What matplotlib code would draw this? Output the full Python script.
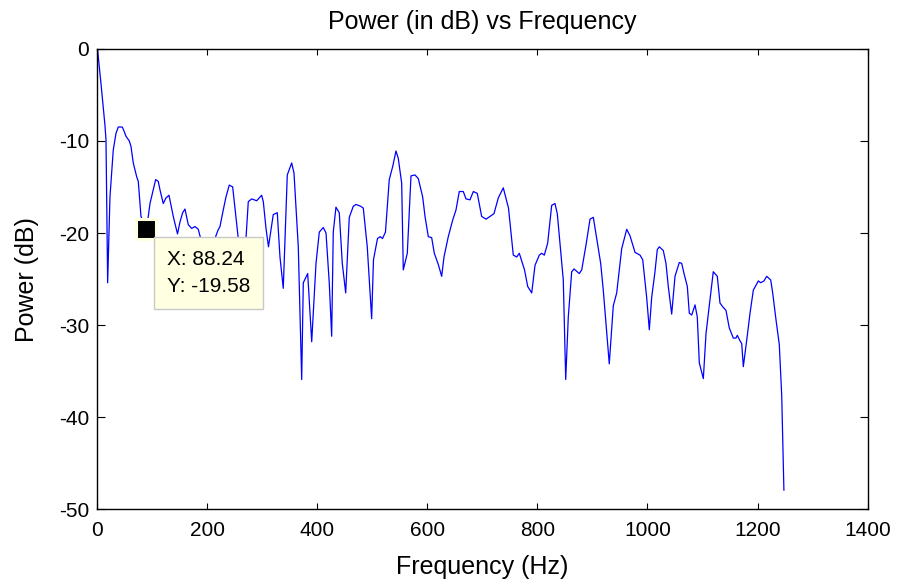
import matplotlib
matplotlib.use('Agg')
import matplotlib.pyplot as plt

# Power spectrum (Hz, dB)
freq_hz = [0, 6.4, 13.6, 15.5, 18.5, 22.7, 28.7, 33.6, 37.8, 45.1,
           48.7, 51.8, 57.8, 60.9, 65.1, 71.3, 74.2, 79.1, 88.24, 92.4,
           95.5, 101.5, 105.8, 110.5, 113.6, 119.6, 124.5, 130.0, 133.1, 137.8,
           145.5, 150.0, 154.9, 159.1, 165.1, 171.3, 177.3, 183.3, 187.6, 200.9,
           213.6, 219.1, 222.7, 228.7, 233.6, 239.6, 245.8, 256.0, 262.7, 270.0,
           274.2, 280.4, 289.5, 298.5, 301.5, 306.4, 310.9, 319.6, 326.9, 331.8,
           337.8, 345.1, 353.1, 357.3, 365.1, 371.3, 374.2, 382.2, 389.5, 397.3,
           403.3, 410.5, 415.5, 421.5, 425.8, 428.7, 433.6, 439.6, 445.1, 451.3,
           457.8, 465.1, 470.0, 478.5, 483.3, 490.5, 498.5, 501.8, 509.1, 514.2,
           518.2, 523.6, 530.5, 536.7, 542.7, 546.9, 553.1, 556.0, 563.3, 570.0,
           577.3, 583.3, 591.3, 595.5, 601.5, 607.6, 612.4, 619.6, 625.8, 630.0,
           637.8, 645.8, 651.8, 657.8, 665.1, 670.0, 677.3, 683.3, 690.5, 698.5,
           706.4, 713.6, 720.9, 728.7, 737.8, 747.3, 756.0, 762.2, 766.9, 776.4,
           782.2, 789.5, 795.5, 803.3, 807.6, 812.4, 818.5, 825.8, 831.8, 836.0,
           846.9, 851.3, 856.0, 862.2, 866.4, 876.0, 880.4, 888.2, 895.5, 901.5,
           907.6, 914.9, 919.6, 930.5, 937.8, 944.0, 953.1, 962.2, 968.2, 977.3,
           986.4, 991.3, 995.5, 998.5, 1003.3, 1007.6, 1013.6, 1017.8, 1021.5, 1028.7,
           1033.6, 1037.8, 1044.0, 1050.0, 1057.8, 1062.2, 1066.4, 1072.4, 1076.0, 1080.4,
           1086.4, 1090.5, 1094.2, 1101.5, 1106.4, 1113.6, 1119.6, 1126.9, 1131.8, 1136.7,
           1142.7, 1148.7, 1156.0, 1160.9, 1163.3, 1168.2, 1171.3, 1174.2, 1181.5, 1186.4,
           1192.4, 1201.5, 1205.8, 1211.8, 1216.7, 1224.0, 1227.6, 1233.6, 1239.6, 1244.0,
           1248.0]

power_db = [0, -3.8, -8.3, -9.9, -25.4, -16.1, -11.0, -9.2, -8.5, -8.5,
            -9.0, -9.5, -10.0, -10.6, -12.4, -13.9, -14.4, -18.2, -19.58, -18.2,
            -16.8, -15.3, -14.2, -14.4, -15.3, -16.8, -16.2, -15.9, -16.8, -18.2,
            -20.1, -18.8, -17.8, -17.4, -19.1, -19.5, -19.3, -19.6, -20.6, -22.4,
            -20.6, -19.7, -19.3, -17.5, -16.1, -14.8, -15.0, -20.6, -23.5, -20.6,
            -16.6, -16.3, -16.5, -15.9, -16.6, -19.5, -21.5, -18.0, -17.8, -22.6,
            -26.0, -13.7, -12.4, -13.5, -21.5, -35.9, -25.4, -24.4, -31.8, -23.3,
            -19.9, -19.4, -20.0, -25.5, -31.2, -19.9, -17.2, -17.8, -23.3, -26.5,
            -18.3, -17.1, -16.9, -17.1, -17.3, -21.5, -29.3, -22.9, -20.6, -20.4,
            -20.6, -19.9, -14.2, -12.8, -11.1, -11.9, -14.6, -24.0, -22.2, -13.8,
            -13.7, -14.1, -16.1, -18.2, -20.4, -20.5, -22.2, -23.4, -24.7, -22.6,
            -20.4, -18.6, -17.5, -15.5, -15.5, -16.3, -16.4, -15.5, -15.7, -18.2,
            -18.5, -18.2, -17.9, -16.2, -15.1, -17.3, -22.4, -22.6, -22.2, -24.0,
            -25.8, -26.5, -23.5, -22.4, -22.2, -22.4, -21.1, -17.0, -16.8, -17.9,
            -25.1, -35.9, -29.1, -24.2, -23.9, -24.4, -24.0, -21.3, -18.5, -18.3,
            -20.6, -23.3, -26.2, -34.2, -27.9, -26.5, -21.7, -19.6, -20.3, -22.1,
            -22.4, -22.9, -25.3, -27.0, -30.5, -27.0, -24.2, -21.8, -21.5, -21.9,
            -23.3, -25.8, -28.8, -24.7, -23.2, -23.3, -24.4, -25.8, -28.7, -28.9,
            -27.8, -29.1, -34.1, -35.8, -30.9, -27.3, -24.2, -24.7, -27.6, -28.0,
            -28.4, -30.3, -31.4, -31.4, -31.1, -31.7, -32.0, -34.5, -31.1, -28.7,
            -26.2, -25.2, -25.4, -25.2, -24.7, -25.1, -26.5, -29.4, -32.1, -37.6,
            -47.9]

# data tip shown on the plot
tip_x = 88.24
tip_y = -19.58

x_ticks = [0, 200, 400, 600, 800, 1000, 1200, 1400]
y_ticks = [-50, -40, -30, -20, -10, 0]

plt.rcParams['font.family'] = ['Liberation Sans', 'DejaVu Sans']
plt.rcParams['axes.unicode_minus'] = False  # plain hyphen like MATLAB

fig = plt.figure(figsize=(9, 5.81), dpi=100)
ax = fig.add_subplot(111)
fig.subplots_adjust(left=0.1083, right=0.9639, top=0.9162, bottom=0.1231)

ax.plot(freq_hz, power_db, color='#0000FF', linewidth=0.9)

# data cursor marker + box
ax.plot(tip_x, tip_y, marker='s', markersize=13.7, markerfacecolor='black',
        markeredgecolor='#FFFFE1', markeredgewidth=2.2, zorder=5)
ax.annotate('X: %.2f\nY: %.2f' % (tip_x, tip_y), xy=(tip_x, tip_y),
            xytext=(21, -21), textcoords='offset pixels', ha='left', va='top',
            fontsize=15, linespacing=1.5, zorder=6,
            bbox=dict(boxstyle='square,pad=0.62', fc='#FFFFE1', ec='#C8C8C8', lw=1))

ax.set_xlim(0, 1400)
ax.set_ylim(-50, 0)
ax.set_xticks(x_ticks)
ax.set_yticks(y_ticks)
ax.tick_params(direction='in', top=True, right=True, labelsize=15, width=0.8)
ax.tick_params(axis='x', length=4.5, pad=8)
ax.tick_params(axis='y', length=5.5, pad=6)
for s in ax.spines.values():
    s.set_linewidth(1.0)

ax.set_title('Power (in dB) vs Frequency', fontsize=18, pad=14)
ax.set_xlabel('Frequency (Hz)', fontsize=18, labelpad=11)
ax.set_ylabel('Power (dB)', fontsize=18, labelpad=14)

plt.savefig('out.png', dpi=100)
